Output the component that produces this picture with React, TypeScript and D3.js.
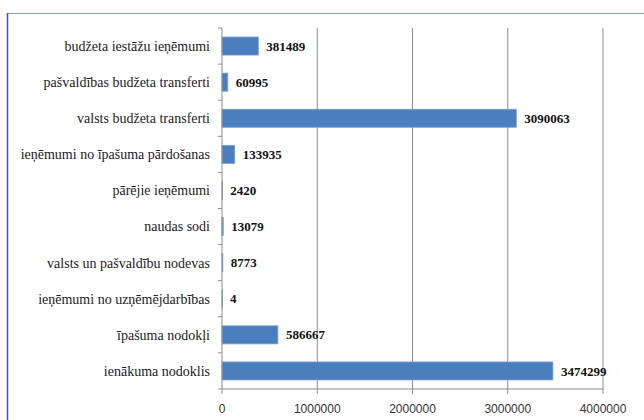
import React from "react";
import * as d3 from "d3";

const width = 644;
const height = 420;

const categories = [
  "budžeta iestāžu ieņēmumi",
  "pašvaldības budžeta transferti",
  "valsts budžeta transferti",
  "ieņēmumi no īpašuma pārdošanas",
  "pārējie ieņēmumi",
  "naudas sodi",
  "valsts un pašvaldību nodevas",
  "ieņēmumi no uzņēmējdarbības",
  "īpašuma nodokļi",
  "ienākuma nodoklis",
];
const values = [381489, 60995, 3090063, 133935, 2420, 13079, 8773, 4, 586667, 3474299];
const xTicks = [0, 1000000, 2000000, 3000000, 4000000];

const plotLeft = 222;
const plotRight = 603;
const plotTop = 28;
const plotBottom = 389;

const x = d3.scaleLinear().domain([0, 4000000]).range([plotLeft, plotRight]);
const y = d3
  .scaleBand<string>()
  .domain(categories)
  .range([plotTop, plotBottom])
  .paddingInner(0.5)
  .paddingOuter(0.25);

const step = y.step();
const serif = "Liberation Serif, Times New Roman, serif";
const sans = "Liberation Sans, Arial, sans-serif";

export default function App() {
  // category boundaries for the left-axis tick marks
  const bounds = d3.range(categories.length + 1).map((i) => plotTop + i * step);

  return (
    <div style={{ position: "absolute", left: 0, top: 0 }}>
      <svg width={width} height={height} style={{ display: "block", background: "white" }}>
        {/* chart frame */}
        <line x1={7} y1={13.5} x2={width} y2={13.5} stroke="#8a9ccc" strokeWidth={1} />
        <line x1={7.5} y1={13} x2={7.5} y2={height} stroke="#3d55a3" strokeWidth={1.5} />

        {/* vertical gridlines */}
        {xTicks.slice(1).map((t) => (
          <line
            key={t}
            x1={x(t)}
            x2={x(t)}
            y1={plotTop}
            y2={plotBottom}
            stroke="#8c8c8c"
            strokeWidth={1}
          />
        ))}

        {/* bars */}
        {categories.map((c, i) => (
          <rect
            key={c}
            x={x(0)}
            y={y(c)}
            width={Math.max(x(values[i]) - x(0), 0.6)}
            height={y.bandwidth()}
            fill="#4a7ebf"
            stroke="#7aa3d6"
            strokeWidth={0.8}
          />
        ))}

        {/* value labels */}
        {categories.map((c, i) => (
          <text
            key={c}
            x={x(values[i]) + 8}
            y={(y(c) ?? 0) + y.bandwidth() / 2}
            dy="0.35em"
            style={{ fontFamily: serif, fontWeight: "bold", fontSize: 13 }}
            fill="#111"
          >
            {values[i]}
          </text>
        ))}

        {/* category axis */}
        <line x1={plotLeft} x2={plotLeft} y1={plotTop} y2={plotBottom} stroke="#8c8c8c" />
        {bounds.map((b) => (
          <line key={b} x1={plotLeft - 4} x2={plotLeft} y1={b} y2={b} stroke="#8c8c8c" />
        ))}
        {categories.map((c) => (
          <text
            key={c}
            x={210}
            y={(y(c) ?? 0) + y.bandwidth() / 2}
            dy="0.35em"
            textAnchor="end"
            style={{ fontFamily: serif, fontSize: 14 }}
            fill="#222"
          >
            {c}
          </text>
        ))}

        {/* value axis */}
        <line x1={plotLeft} x2={plotRight} y1={plotBottom} y2={plotBottom} stroke="#8c8c8c" />
        {xTicks.map((t) => (
          <g key={t}>
            <line x1={x(t)} x2={x(t)} y1={plotBottom} y2={plotBottom + 5} stroke="#8c8c8c" />
            <text
              x={x(t)}
              y={413}
              textAnchor="middle"
              style={{ fontFamily: sans, fontSize: 12 }}
              fill="#333"
            >
              {t}
            </text>
          </g>
        ))}
      </svg>
    </div>
  );
}
